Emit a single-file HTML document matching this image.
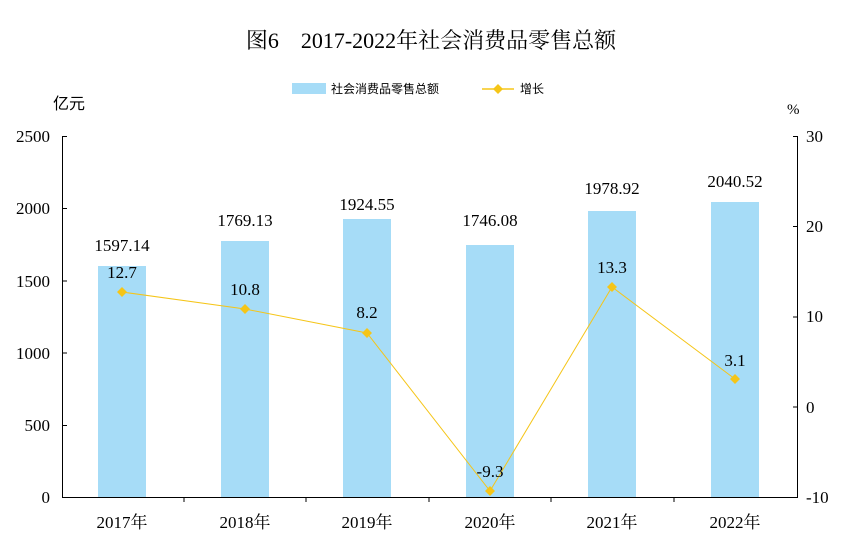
<!DOCTYPE html>
<html><head><meta charset="utf-8"><style>
body{margin:0;background:#fff;}
svg text{font-family:"Liberation Serif","Noto Serif CJK SC",serif;fill:#000;}
</style></head><body>
<svg width="862" height="553" viewBox="0 0 862 553" xmlns="http://www.w3.org/2000/svg">
<text x="431" y="48" font-size="22" text-anchor="middle">图6　2017-2022年社会消费品零售总额</text>
<rect x="292" y="83" width="34" height="11" fill="#a6dcf7"/>
<text x="331" y="93" font-size="12" style="font-family:'Noto Sans CJK SC',sans-serif">社会消费品零售总额</text>
<line x1="482" y1="89" x2="514" y2="89" stroke="#f5c518" stroke-width="1.5"/>
<path d="M498 84 L503 89 L498 94 L493 89Z" fill="#f5c518"/>
<text x="520" y="93" font-size="12" style="font-family:'Noto Sans CJK SC',sans-serif">增长</text>
<text x="53" y="109" font-size="16" style="font-family:'Noto Sans CJK SC',sans-serif">亿元</text>
<text x="787" y="114" font-size="15">%</text>
<g stroke="#000" stroke-width="1" fill="none">
<path d="M62.5 136 V497.5 H797.5 V136"/>
<path d="M62 136.5h5M62 208.5h5M62 281h5M62 353h5M62 425.5h5"/>
<path d="M793 136.5h5M793 226.5h5M793 317h5M793 407h5"/>
<path d="M184 497v5M306 497v5M429 497v5M551 497v5M674 497v5"/>
</g>
<g font-size="17" text-anchor="end">
<text x="50" y="142">2500</text><text x="50" y="214">2000</text><text x="50" y="287">1500</text><text x="50" y="359">1000</text><text x="50" y="431">500</text><text x="50" y="503">0</text>
</g>
<g font-size="17">
<text x="806" y="142">30</text><text x="806" y="232">20</text><text x="806" y="322">10</text><text x="806" y="413">0</text><text x="806" y="503">-10</text>
</g>
<g fill="#a6dcf7">
<rect x="98" y="266" width="48" height="231"/>
<rect x="221" y="241" width="48" height="256"/>
<rect x="343" y="219" width="48" height="278"/>
<rect x="466" y="245" width="48" height="252"/>
<rect x="588" y="211" width="48" height="286"/>
<rect x="711" y="202" width="48" height="295"/>
</g>
<g font-size="17" text-anchor="middle">
<text x="122" y="251">1597.14</text><text x="245" y="226">1769.13</text><text x="367" y="210">1924.55</text><text x="490" y="226">1746.08</text><text x="612" y="194">1978.92</text><text x="735" y="187">2040.52</text>
</g>
<polyline points="122,292 245,309 367,333 490,491 612,287 735,379" fill="none" stroke="#f5c518" stroke-width="1"/>
<g fill="#f5c518">
<path d="M122 287l5 5-5 5-5-5z"/><path d="M245 304l5 5-5 5-5-5z"/><path d="M367 328l5 5-5 5-5-5z"/><path d="M490 486l5 5-5 5-5-5z"/><path d="M612 282l5 5-5 5-5-5z"/><path d="M735 374l5 5-5 5-5-5z"/>
</g>
<g font-size="17" text-anchor="middle">
<text x="122" y="278">12.7</text><text x="245" y="295">10.8</text><text x="367" y="318">8.2</text><text x="490" y="477">-9.3</text><text x="612" y="273">13.3</text><text x="735" y="366">3.1</text>
</g>
<g font-size="17" text-anchor="middle">
<text x="122" y="528">2017年</text><text x="245" y="528">2018年</text><text x="367" y="528">2019年</text><text x="490" y="528">2020年</text><text x="612" y="528">2021年</text><text x="735" y="528">2022年</text>
</g>
</svg>
</body></html>
